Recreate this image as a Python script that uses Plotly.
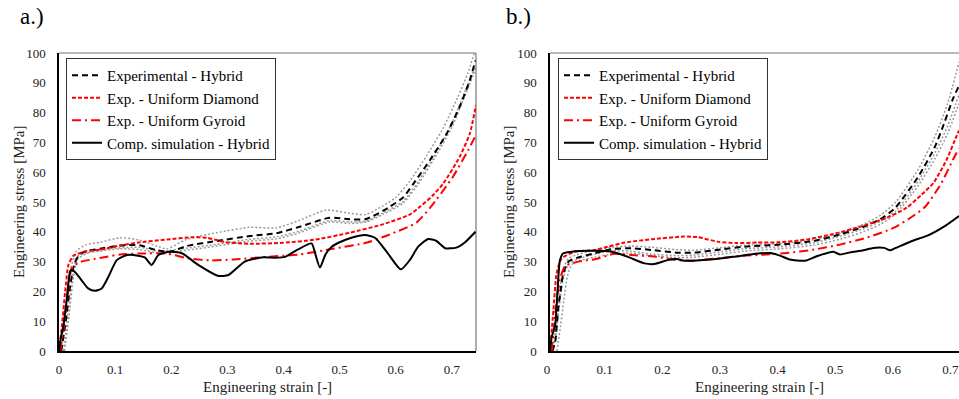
import plotly.graph_objects as go

# ---------------- data: panel a ----------------
a_exp_strain = [0.004, 0.012, 0.02, 0.027, 0.037, 0.05, 0.073, 0.109, 0.144, 0.174, 0.198, 0.227, 0.281, 0.34,
                0.387, 0.429, 0.482, 0.518, 0.547, 0.577, 0.59, 0.613, 0.631, 0.661, 0.691, 0.714, 0.732, 0.742]
a_exp_stress = [0, 10, 22, 29, 32.5, 33.6, 34.3, 35.4, 35.5, 33.8, 33.3, 35.2, 36.9, 38.6,
                39.5, 41.7, 44.7, 44.2, 44.3, 47, 48.5, 51.5, 56, 64.1, 73, 82, 90.9, 97.5]

a_spec1_strain = [0.003, 0.01, 0.02, 0.031, 0.049, 0.073, 0.109, 0.144, 0.174, 0.192, 0.227, 0.281, 0.34, 0.387,
                  0.429, 0.476, 0.518, 0.547, 0.577, 0.6, 0.625, 0.655, 0.685, 0.71, 0.728, 0.74]
a_spec1_stress = [0, 12, 27, 33.5, 35.7, 36.5, 38, 37.2, 35.2, 34.3, 37.4, 39.7, 41.5, 41.3,
                  43.9, 47.3, 46.2, 45.8, 48.7, 51.5, 57, 65.5, 75, 85, 93, 100]

a_spec2_strain = [0.008, 0.016, 0.024, 0.031, 0.05, 0.073, 0.109, 0.144, 0.18, 0.227, 0.281, 0.34, 0.387,
                  0.429, 0.482, 0.518, 0.547, 0.577, 0.613, 0.64, 0.67, 0.7, 0.722, 0.743]
a_spec2_stress = [0, 12, 25, 31.5, 33, 33.5, 34.3, 34, 32.9, 33.8, 35.2, 36.9, 37.6,
                  39.7, 43.3, 42.8, 43.3, 45.8, 49.6, 56, 65, 75, 85, 95]

a_spec3_strain = [0.01, 0.018, 0.026, 0.034, 0.06, 0.1, 0.144, 0.18, 0.227, 0.281, 0.34, 0.387,
                  0.429, 0.482, 0.518, 0.547, 0.577, 0.613, 0.64, 0.67, 0.7, 0.722, 0.743]
a_spec3_stress = [0, 12, 25, 31, 33.5, 34.5, 34.8, 33.5, 34.5, 35.8, 37.5, 38.3,
                  40.3, 43.8, 43.3, 43.6, 46.3, 50.2, 56.8, 66, 76.5, 86.5, 96]

a_dia_strain = [0, 0.005, 0.011, 0.017, 0.026, 0.049, 0.073, 0.109, 0.144, 0.192, 0.239, 0.263, 0.298, 0.34,
                0.399, 0.458, 0.518, 0.577, 0.625, 0.643, 0.665, 0.685, 0.714, 0.732, 0.743]
a_dia_stress = [0, 8, 20, 29, 32, 33.5, 34, 35.4, 36.5, 37.4, 38.2, 38, 36.5, 36,
                36.3, 37.4, 39.7, 42.5, 45.8, 48.4, 52, 56.3, 65.2, 73, 82.5]

a_gyr_strain = [0.002, 0.008, 0.015, 0.023, 0.037, 0.073, 0.109, 0.144, 0.192, 0.227, 0.269, 0.31, 0.37,
                0.429, 0.488, 0.547, 0.589, 0.636, 0.661, 0.702, 0.729, 0.743]
a_gyr_stress = [0, 7, 18, 27.9, 29.8, 31.2, 32.4, 32.7, 32.7, 31.2, 30.4, 30.7, 31.6,
                32.4, 34.3, 36.3, 39.1, 43, 48, 58.5, 67.4, 72.5]

a_sim_strain = [0, 0.0036, 0.0077, 0.0137, 0.0196, 0.0226, 0.03, 0.04, 0.052, 0.064, 0.076, 0.088, 0.103, 0.121,
                0.141, 0.153, 0.165, 0.177, 0.195, 0.219, 0.248, 0.284, 0.302, 0.331, 0.361, 0.385, 0.403, 0.425,
                0.45, 0.456, 0.465, 0.475, 0.486, 0.5, 0.521, 0.545, 0.563, 0.585, 0.609, 0.625, 0.64, 0.658,
                0.672, 0.688, 0.708, 0.723, 0.742]
a_sim_stress = [0, 4.8, 8.2, 17.1, 26.6, 27.2, 26.2, 23.8, 21, 20.2, 21, 24.9, 30.5, 32.2,
                32, 31.4, 28.9, 32.2, 33.3, 32.8, 28.9, 25.2, 25.5, 30, 31.4, 31.3, 31.6, 34,
                36.1, 33, 28, 32.5, 35, 36.5, 38, 38.9, 38, 33, 27.4, 30.5, 35, 37.6,
                37, 34.5, 34.7, 36.4, 40]

# ---------------- data: panel b ----------------
b_exp_strain = [0.004, 0.009, 0.014, 0.019, 0.023, 0.032, 0.049, 0.078, 0.107, 0.141, 0.176, 0.222, 0.25, 0.297,
                0.337, 0.399, 0.457, 0.503, 0.544, 0.573, 0.599, 0.639, 0.668, 0.685, 0.699, 0.7097]
b_exp_stress = [0, 3, 13.8, 21, 26, 30, 31.4, 32.8, 34.2, 34.5, 33.9, 33, 33, 34.1,
                35, 35.7, 36.9, 39.1, 41.7, 44.2, 48, 58.5, 68.6, 77, 84.5, 89]

b_spec1_strain = [0.003, 0.008, 0.013, 0.018, 0.024, 0.032, 0.05, 0.078, 0.107, 0.141, 0.176, 0.222, 0.25, 0.297,
                  0.337, 0.399, 0.457, 0.503, 0.544, 0.573, 0.6, 0.639, 0.668, 0.69, 0.7097]
b_spec1_stress = [0, 5, 14, 22, 28, 31, 32.5, 33.8, 34.8, 35.2, 34.8, 34, 33.8, 34.7,
                  35.5, 36, 37.3, 39.5, 42.5, 45.5, 50, 61, 72, 83, 97]

b_spec2_strain = [0.006, 0.012, 0.018, 0.024, 0.032, 0.05, 0.078, 0.107, 0.141, 0.176, 0.222, 0.25, 0.297,
                  0.337, 0.399, 0.457, 0.503, 0.544, 0.573, 0.6, 0.639, 0.668, 0.69, 0.7097]
b_spec2_stress = [0, 8, 18, 25, 29, 31, 32.5, 33.6, 33.5, 32.5, 32, 32.2, 33.3,
                  34.3, 35, 36.3, 38.5, 41, 43.5, 47, 57, 66.5, 75.5, 86]

b_spec3_strain = [0.012, 0.018, 0.024, 0.03, 0.038, 0.055, 0.078, 0.107, 0.141, 0.176, 0.222, 0.25, 0.297,
                  0.337, 0.399, 0.457, 0.503, 0.544, 0.573, 0.6, 0.639, 0.668, 0.69, 0.7097]
b_spec3_stress = [0, 8, 17, 25, 29, 30.5, 31.5, 32.5, 32.8, 32, 31.3, 31.5, 32.5,
                  33.5, 34.3, 35.5, 37.5, 40, 42.5, 46, 55.5, 64.5, 73, 83]

b_dia_strain = [0, 0.006, 0.0115, 0.02, 0.043, 0.078, 0.1, 0.13, 0.176, 0.233, 0.256, 0.291, 0.325, 0.36,
                0.399, 0.445, 0.492, 0.538, 0.584, 0.619, 0.645, 0.665, 0.688, 0.705, 0.7097]
b_dia_stress = [0, 13.8, 26, 31, 33.3, 33.9, 35, 36.4, 37.5, 38.4, 38.2, 36.7, 36.2, 36.4,
                36.5, 37.4, 39.3, 41.7, 44.7, 48.1, 52.5, 56.3, 64.1, 71.9, 74]

b_gyr_strain = [0.003, 0.0086, 0.017, 0.026, 0.049, 0.078, 0.112, 0.141, 0.181, 0.222, 0.245, 0.291, 0.337, 0.36,
                0.411, 0.457, 0.503, 0.549, 0.596, 0.63, 0.651, 0.679, 0.699, 0.7097]
b_gyr_stress = [0, 11.5, 23.9, 28.4, 30, 30.8, 32.6, 32.2, 31.7, 30.5, 30.3, 31.1, 32, 32.2,
                32.9, 34, 35.7, 38, 41.3, 45.3, 48.4, 56.3, 64.1, 68]

b_sim_strain = [0, 0.003, 0.0086, 0.013, 0.0173, 0.023, 0.037, 0.07, 0.107, 0.135, 0.164, 0.181, 0.204, 0.22,
                0.233, 0.279, 0.318, 0.36, 0.382, 0.399, 0.416, 0.434, 0.445, 0.463, 0.483, 0.492, 0.503, 0.521,
                0.544, 0.561, 0.58, 0.59, 0.599, 0.628, 0.656, 0.685, 0.7097]
b_sim_stress = [0, 4.8, 8.2, 20, 30.5, 32.8, 33.3, 33.6, 33.3, 31.6, 29.4, 29.2, 30.5, 30.9,
                30.3, 30.7, 31.6, 32.7, 32.9, 32, 30.7, 30.3, 30.4, 31.8, 33, 33.3, 32.4, 33.1,
                33.8, 34.6, 34.6, 33.8, 34.5, 36.9, 38.8, 41.9, 45.3]

legend_names = ["Experimental - Hybrid", "Exp. - Uniform Diamond",
                "Exp. - Uniform Gyroid", "Comp. simulation - Hybrid"]
y_ticks = [0, 10, 20, 30, 40, 50, 60, 70, 80, 90, 100]
x_ticks = [0, 0.1, 0.2, 0.3, 0.4, 0.5, 0.6, 0.7]

# ---------------- styling ----------------
W, H = 959, 399
FONT = "Times New Roman"
GRAY = "#9a9a9a"
RED = "#ff0000"

STYLE_EXP = dict(color="black", width=2, dash="6px,4px")
STYLE_DIA = dict(color=RED, width=2, dash="4px,2px")
STYLE_GYR = dict(color=RED, width=2, dash="9px,4px,2px,4px")
STYLE_SIM = dict(color="black", width=2)
STYLE_SPEC = dict(color=GRAY, width=1.5, dash="2px,2px")


def px(x):
    return x / W


def py(y):
    return 1 - y / H


fig = go.Figure()


def add_panel(xa, ya, leg, specs, exp, dia, gyr, sim):
    # individual specimens (grey dotted) behind the averaged curves
    for sx, sy in specs:
        fig.add_trace(go.Scatter(x=sx, y=sy, mode="lines", line=dict(**STYLE_SPEC, shape="spline", smoothing=0.6),
                                 showlegend=False, hoverinfo="skip", xaxis=xa, yaxis=ya))
    for (sx, sy), name, st in zip([exp, dia, gyr, sim], legend_names,
                                  [STYLE_EXP, STYLE_DIA, STYLE_GYR, STYLE_SIM]):
        fig.add_trace(go.Scatter(x=sx, y=sy, mode="lines", name=name,
                                 line=dict(**st, shape="spline", smoothing=0.6),
                                 legend=leg, xaxis=xa, yaxis=ya))


add_panel("x", "y", "legend",
          [(a_spec1_strain, a_spec1_stress), (a_spec2_strain, a_spec2_stress), (a_spec3_strain, a_spec3_stress)],
          (a_exp_strain, a_exp_stress), (a_dia_strain, a_dia_stress),
          (a_gyr_strain, a_gyr_stress), (a_sim_strain, a_sim_stress))
add_panel("x2", "y2", "legend2",
          [(b_spec1_strain, b_spec1_stress), (b_spec2_strain, b_spec2_stress), (b_spec3_strain, b_spec3_stress)],
          (b_exp_strain, b_exp_stress), (b_dia_strain, b_dia_stress),
          (b_gyr_strain, b_gyr_stress), (b_sim_strain, b_sim_stress))

top, bottom = 53, 351
ydom = [py(bottom), py(top)]
a_left, a_right = 59, 476
b_left, b_right = 550, 959

axis_common = dict(showgrid=False, zeroline=False, showline=True, linecolor="black", linewidth=1.5,
                   ticks="", tickfont=dict(family=FONT, size=13, color="#222"), automargin=False,
                   ticklabeloverflow="allow")

legend_common = dict(xanchor="left", yanchor="top", bgcolor="white", bordercolor="#333", borderwidth=1,
                     font=dict(family=FONT, size=15, color="black"), itemwidth=30, tracegroupgap=0,
                     traceorder="normal")

fig.update_layout(
    width=W, height=H, margin=dict(l=0, r=0, t=0, b=0),
    paper_bgcolor="white", plot_bgcolor="white", template="none",
    font=dict(family=FONT, color="#222"),
    xaxis=dict(domain=[px(a_left), px(a_right)], range=[0, 0.743], tickvals=x_ticks,
               ticklabelstandoff=6, anchor="y", **axis_common),
    yaxis=dict(domain=ydom, range=[0, 100], tickvals=y_ticks, ticklabelstandoff=9, anchor="x", **axis_common),
    xaxis2=dict(domain=[px(b_left), px(b_right)], range=[0, 0.7097], tickvals=x_ticks,
                ticklabelstandoff=6, ticklabelshift=-3, anchor="y2", **axis_common),
    yaxis2=dict(domain=ydom, range=[0, 100], tickvals=y_ticks, ticklabelstandoff=9, anchor="x2", **axis_common),
    legend=dict(x=px(66), y=py(58), **legend_common),
    legend2=dict(x=px(558), y=py(58), **legend_common),
    showlegend=True,
)

# plot frames (lighter top/right borders)
fig.add_shape(type="line", xref="paper", yref="paper", x0=px(a_left), x1=px(a_right), y0=py(top), y1=py(top),
              line=dict(color="#777", width=1.2), layer="below")
fig.add_shape(type="line", xref="paper", yref="paper", x0=px(a_right), x1=px(a_right), y0=py(top), y1=py(bottom),
              line=dict(color="#777", width=1.2), layer="below")
fig.add_shape(type="line", xref="paper", yref="paper", x0=px(b_left), x1=1, y0=py(top), y1=py(top),
              line=dict(color="#777", width=1.2), layer="below")

# panel labels and axis titles
ann = [
    dict(text="a.)", x=px(18), y=py(17), xanchor="left", yanchor="middle", font=dict(family=FONT, size=23, color="black")),
    dict(text="b.)", x=px(504), y=py(17), xanchor="left", yanchor="middle", font=dict(family=FONT, size=23, color="black")),
    dict(text="Engineering strain [-]", x=px(267.5), y=py(387), xanchor="center", yanchor="middle",
         font=dict(family=FONT, size=15, color="#222")),
    dict(text="Engineering strain [-]", x=px(759), y=py(387), xanchor="center", yanchor="middle",
         font=dict(family=FONT, size=15, color="#222")),
    dict(text="Engineering stress [MPa]", x=px(19), y=py(202), xanchor="center", yanchor="middle",
         textangle=-90, font=dict(family=FONT, size=15, color="#222")),
    dict(text="Engineering stress [MPa]", x=px(509), y=py(202), xanchor="center", yanchor="middle",
         textangle=-90, font=dict(family=FONT, size=15, color="#222")),
]
for a in ann:
    fig.add_annotation(xref="paper", yref="paper", showarrow=False, **a)

fig.write_html("out.html")
